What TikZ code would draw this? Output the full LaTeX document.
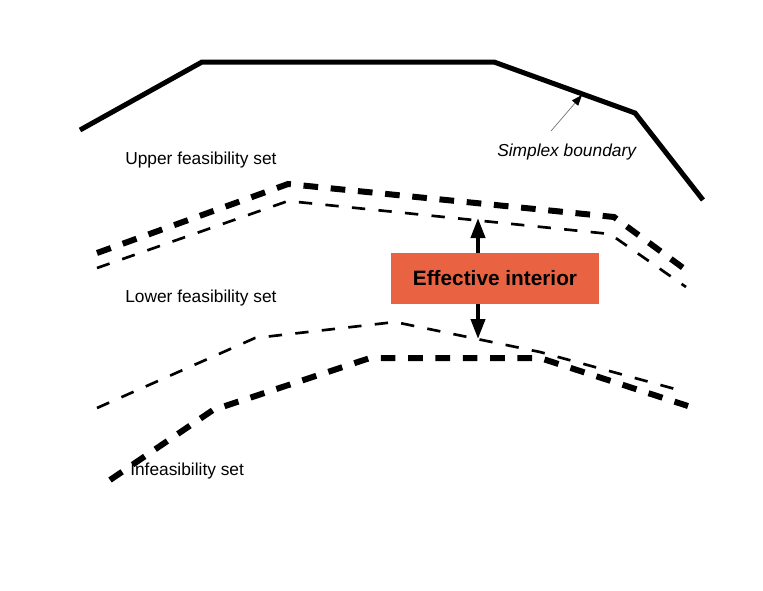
\documentclass[tikz,border=0pt]{standalone}
\usepackage{fontspec}
\setmainfont{Liberation Sans}
\usepackage{tikz}
\usetikzlibrary{arrows.meta}
\definecolor{boxColor}{RGB}{233, 98, 66}
\definecolor{pointerColor}{RGB}{110, 110, 110}

\begin{document}
\begin{tikzpicture}[x=0.75pt, y=-0.75pt, font=\fontsize{13}{15}\selectfont]
	\useasboundingbox (0, 0) rectangle (763, 590);
	\tikzset{
		thickdash/.style={line width=4.5pt, dash pattern=on 11pt off 9.5pt},
		thindash/.style={line width=2pt, dash pattern=on 10pt off 10pt},
		setlabel/.style={anchor=base west, inner sep=0pt},
		gaparrow/.style={line width=3pt, -{Triangle[length=15pt, width=10.5pt]}}
	}
	% Simplex boundary (solid polyline)
	\draw[line width=3.75pt, line join=miter] (80, 130) -- (202, 62) -- (494, 62) -- (635, 113) -- (703, 200);
	\coordinate (edgept) at (582, 95);
	\node[setlabel, font=\fontsize{13}{15}\selectfont\itshape] (simplexlbl) at (497, 156) {Simplex boundary};
	\coordinate (ptrfoot) at (551, 131);
	\draw[pointerColor, line width=0.5pt, -{Triangle[length=8pt, width=6pt, black]}] (ptrfoot) -- (edgept);

	% Upper feasibility set (two dashed lines)
	\node[setlabel] (upperlbl) at (125, 164) {Upper feasibility set};
	\draw[thickdash] (97, 253) -- (288, 184) -- (614, 217) -- (686, 270);
	\draw[thindash] (97, 268) -- (288, 201) -- (610, 234) -- (686, 287);

	% Lower feasibility set
	\node[setlabel] (lowerlbl) at (125, 302) {Lower feasibility set};
	\draw[thindash] (97, 408) -- (255, 338) -- (395, 322) -- (540, 352) -- (686, 392);

	% Infeasibility set
	\draw[thickdash] (110, 480) -- (213, 410) -- (370, 358) -- (540, 358) -- (688, 406);
	\node[setlabel] (infeaslbl) at (130, 475) {Infeasibility set};

	% Effective interior box with arrows
	\node[fill=boxColor, minimum width=156pt, minimum height=38pt, inner sep=0pt,
		font=\fontsize{15.6}{18}\selectfont\bfseries] (interior) at (495, 278.5) {Effective interior};
	\coordinate (uptip) at (478, 218);
	\coordinate (downtip) at (478, 339);
	\draw[gaparrow] (interior.north -| uptip) -- (uptip);
	\draw[gaparrow] (interior.south -| downtip) -- (downtip);
\end{tikzpicture}
\end{document}
